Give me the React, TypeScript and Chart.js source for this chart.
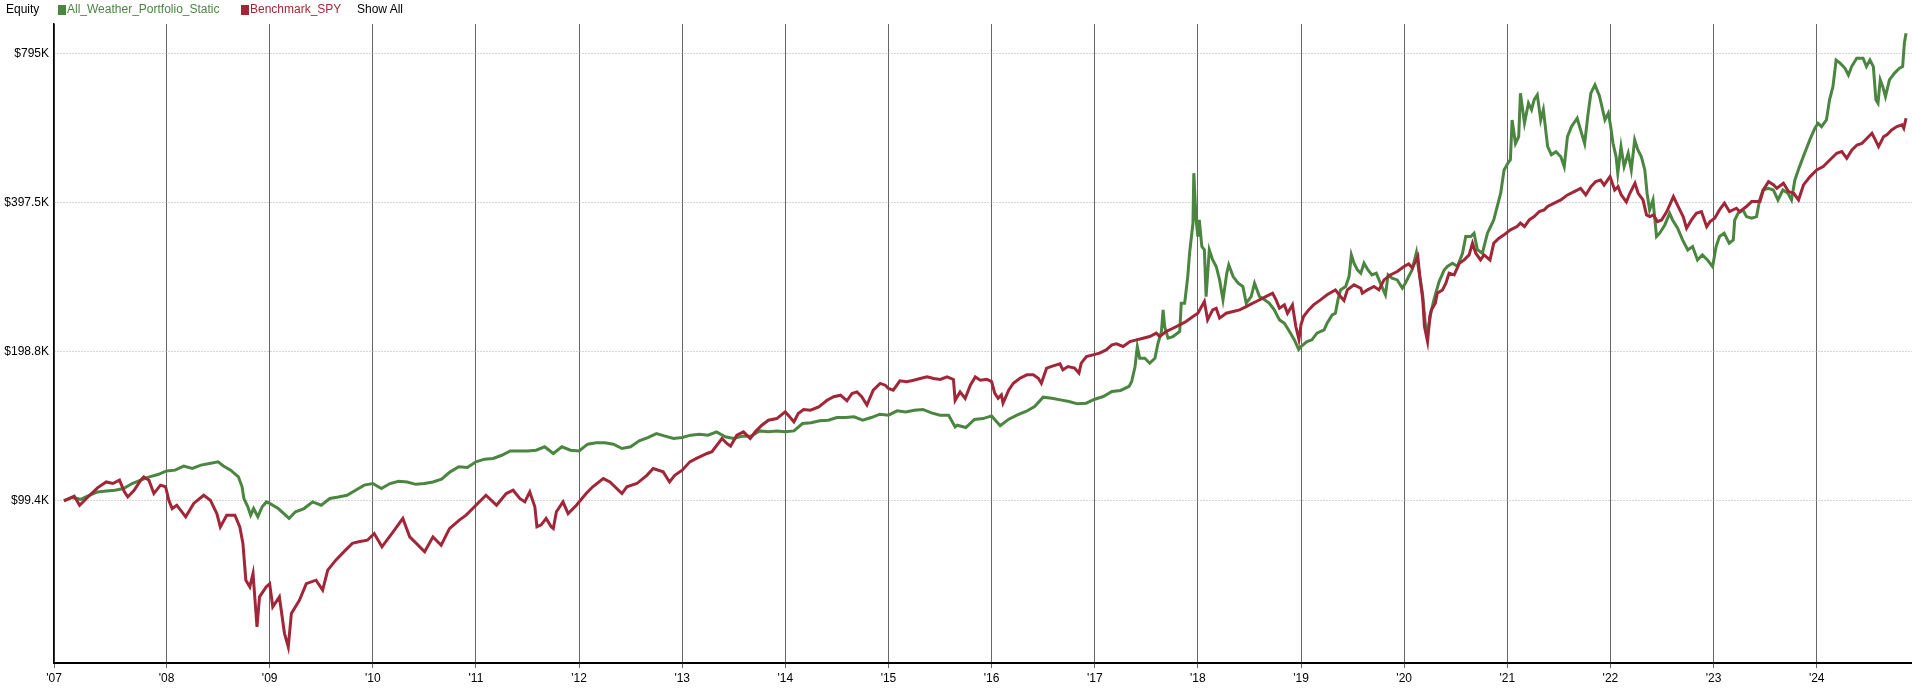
import React, { useEffect, useRef } from "react";
import { Chart, registerables } from "chart.js";

Chart.register(...registerables);

const chartTitle = "Equity";
const seriesNames = ["All_Weather_Portfolio_Static", "Benchmark_SPY"];
const seriesColors = ["#4A8640", "#A12638"];
const showAllText = "Show All";

// x axis (fractional years)
const xMin = 2006.909;
const xMax = 2024.924;
const xTickValues = [xMin, 2008, 2009, 2010, 2011, 2012, 2013, 2014, 2015, 2016, 2017, 2018, 2019, 2020, 2021, 2022, 2023, 2024];
const xTickLabels = ["'07", "'08", "'09", "'10", "'11", "'12", "'13", "'14", "'15", "'16", "'17", "'18", "'19", "'20", "'21", "'22", "'23", "'24"];

// y axis (thousands of dollars, log scale)
const yMin = 46.6;
const yMax = 911;
const yTickValues = [99.375, 198.75, 397.5, 795];
const yTickLabels = ["$99.4K", "$198.8K", "$397.5K", "$795K"];

// equity in $K
const allWeatherPoints: [string, number][] = [
  ["2007-01-03", 99.2], ["2007-02-01", 100.6], ["2007-03-01", 99.8], ["2007-04-01", 101.7], ["2007-05-01", 103.3], ["2007-06-01", 103.7],
  ["2007-07-01", 104.1], ["2007-08-01", 104.9], ["2007-09-01", 107.4], ["2007-10-01", 109.1], ["2007-11-01", 110.8], ["2007-12-01", 112.0],
  ["2008-01-01", 113.9], ["2008-02-01", 114.3], ["2008-03-01", 116.5], ["2008-04-01", 115.2], ["2008-05-01", 117.0], ["2008-06-01", 117.9],
  ["2008-07-01", 118.8], ["2008-07-20", 116.5], ["2008-08-15", 114.3], ["2008-09-12", 110.8], ["2008-09-25", 105.8], ["2008-10-01", 100.2],
  ["2008-10-15", 96.4], ["2008-10-25", 92.7], ["2008-11-05", 95.6], ["2008-11-20", 92.0], ["2008-12-05", 96.4], ["2008-12-20", 98.6],
  ["2009-01-01", 97.9], ["2009-02-01", 95.6], ["2009-03-09", 91.3], ["2009-04-01", 94.2], ["2009-05-01", 95.6], ["2009-06-01", 98.6],
  ["2009-07-01", 97.1], ["2009-08-01", 100.2], ["2009-09-01", 100.9], ["2009-10-01", 101.7], ["2009-11-01", 104.1], ["2009-12-01", 106.6],
  ["2010-01-01", 107.4], ["2010-02-01", 104.9], ["2010-03-01", 107.4], ["2010-04-01", 108.5], ["2010-05-01", 108.2], ["2010-06-01", 107.0],
  ["2010-07-01", 107.4], ["2010-08-01", 108.2], ["2010-09-01", 109.6], ["2010-10-01", 113.4], ["2010-11-01", 116.1], ["2010-12-01", 115.7],
  ["2011-01-01", 118.8], ["2011-02-01", 120.3], ["2011-03-01", 120.7], ["2011-04-01", 122.5], ["2011-05-01", 125.0], ["2011-06-01", 125.0],
  ["2011-07-01", 125.0], ["2011-08-01", 125.4], ["2011-09-01", 127.4], ["2011-10-01", 123.5], ["2011-11-01", 127.4], ["2011-12-01", 125.4],
  ["2012-01-01", 125.0], ["2012-02-01", 129.0], ["2012-03-01", 129.8], ["2012-04-01", 129.8], ["2012-05-01", 129.0], ["2012-06-01", 126.4],
  ["2012-07-01", 127.4], ["2012-08-01", 131.0], ["2012-09-01", 133.0], ["2012-10-01", 135.5], ["2012-11-01", 133.9], ["2012-12-01", 132.4],
  ["2013-01-01", 133.1], ["2013-02-01", 134.5], ["2013-03-01", 135.1], ["2013-04-01", 134.5], ["2013-05-01", 136.6], ["2013-06-01", 133.5],
  ["2013-07-01", 132.4], ["2013-08-01", 133.9], ["2013-09-01", 133.9], ["2013-10-01", 137.2], ["2013-11-01", 136.6], ["2013-12-01", 137.2],
  ["2014-01-01", 136.6], ["2014-02-01", 137.2], ["2014-03-01", 142.0], ["2014-04-01", 142.5], ["2014-05-01", 143.8], ["2014-06-01", 144.2],
  ["2014-07-01", 146.0], ["2014-08-01", 146.0], ["2014-09-01", 146.5], ["2014-10-01", 144.2], ["2014-11-01", 146.0], ["2014-12-01", 148.3],
  ["2015-01-01", 147.6], ["2015-02-01", 150.6], ["2015-03-01", 149.9], ["2015-04-01", 151.1], ["2015-05-01", 151.6], ["2015-06-01", 149.2],
  ["2015-07-01", 147.6], ["2015-08-01", 147.6], ["2015-08-24", 139.8], ["2015-09-01", 140.9], ["2015-10-01", 139.4], ["2015-11-01", 144.7],
  ["2015-12-01", 145.3],
  ["2016-01-01", 147.1], ["2016-02-01", 140.5], ["2016-03-01", 144.9], ["2016-04-01", 147.8], ["2016-05-01", 150.2], ["2016-06-01", 153.7],
  ["2016-07-01", 160.5], ["2016-08-01", 159.7], ["2016-09-01", 158.5], ["2016-10-01", 157.3], ["2016-11-01", 155.6], ["2016-12-01", 156.1],
  ["2017-01-01", 159.0], ["2017-02-01", 161.0], ["2017-03-01", 164.8], ["2017-04-01", 165.6], ["2017-05-01", 168.7], ["2017-05-10", 172.6],
  ["2017-05-22", 185.1], ["2017-05-30", 203.1], ["2017-06-08", 192.4], ["2017-06-26", 192.4], ["2017-07-13", 188.0], ["2017-08-01", 192.4],
  ["2017-08-12", 206.3], ["2017-08-24", 217.8], ["2017-08-30", 240.9], ["2017-09-05", 223.0], ["2017-09-17", 211.2], ["2017-10-04", 212.8],
  ["2017-10-28", 217.8], ["2017-11-03", 248.6], ["2017-11-15", 248.6], ["2017-11-26", 281.3], ["2017-12-02", 313.6], ["2017-12-14", 360.6],
  ["2017-12-17", 455.1], ["2017-12-25", 366.2],
  ["2018-01-01", 338.9], ["2018-01-06", 366.2], ["2018-01-15", 323.5], ["2018-01-24", 318.5], ["2018-01-30", 256.3], ["2018-02-11", 318.5],
  ["2018-02-23", 304.0], ["2018-03-05", 294.8], ["2018-03-17", 277.0], ["2018-03-29", 252.5], ["2018-04-12", 285.8], ["2018-04-19", 297.1],
  ["2018-05-04", 281.3], ["2018-05-22", 272.7], ["2018-06-08", 268.6], ["2018-06-20", 248.6], ["2018-07-07", 256.3], ["2018-07-19", 272.7],
  ["2018-08-06", 256.3], ["2018-08-24", 252.5], ["2018-09-10", 248.6], ["2018-09-28", 240.9], ["2018-10-16", 230.0], ["2018-11-03", 226.4],
  ["2018-11-21", 217.8], ["2018-12-08", 209.5], ["2018-12-23", 200.5],
  ["2019-01-01", 203.2], ["2019-01-22", 207.9], ["2019-02-09", 209.6], ["2019-02-27", 216.2], ["2019-03-22", 219.6], ["2019-04-02", 226.4],
  ["2019-04-20", 235.4], ["2019-05-01", 237.2], ["2019-05-10", 252.4], ["2019-05-19", 264.4], ["2019-06-07", 268.6], ["2019-06-19", 281.4],
  ["2019-06-27", 311.2], ["2019-07-06", 299.3], ["2019-07-18", 290.1], ["2019-07-30", 285.8], ["2019-08-11", 299.3], ["2019-08-25", 290.1],
  ["2019-09-09", 283.5], ["2019-09-24", 285.8], ["2019-10-08", 272.8], ["2019-10-26", 258.4], ["2019-11-05", 283.5], ["2019-11-19", 279.1],
  ["2019-12-07", 277.0], ["2019-12-25", 266.5],
  ["2020-01-05", 272.8], ["2020-01-17", 281.4], ["2020-01-29", 290.1], ["2020-02-14", 314.6], ["2020-02-22", 290.1], ["2020-03-05", 260.4],
  ["2020-03-17", 219.6], ["2020-03-23", 216.2], ["2020-04-04", 237.2], ["2020-04-15", 252.4], ["2020-05-03", 274.9], ["2020-05-21", 290.1],
  ["2020-06-02", 294.9], ["2020-06-20", 299.3], ["2020-07-07", 294.9], ["2020-07-25", 313.6], ["2020-08-06", 339.0], ["2020-08-24", 339.0],
  ["2020-09-05", 344.2], ["2020-09-17", 318.6], ["2020-10-04", 313.6], ["2020-10-22", 344.2], ["2020-11-03", 355.1], ["2020-11-14", 366.3],
  ["2020-11-26", 389.7], ["2020-12-08", 414.5], ["2020-12-20", 462.1],
  ["2021-01-03", 476.7], ["2021-01-12", 484.4], ["2021-01-18", 582.6], ["2021-01-30", 522.5], ["2021-02-11", 539.4], ["2021-02-17", 660.2],
  ["2021-03-01", 574.8], ["2021-03-15", 630.2], ["2021-03-26", 611.3], ["2021-04-05", 640.5], ["2021-04-16", 655.1], ["2021-04-28", 582.6],
  ["2021-05-07", 611.3], ["2021-05-22", 515.8], ["2021-06-05", 495.6], ["2021-06-21", 502.9], ["2021-07-08", 491.1], ["2021-07-20", 469.2],
  ["2021-08-01", 539.4], ["2021-08-15", 565.1], ["2021-09-05", 587.7], ["2021-09-17", 556.5], ["2021-10-01", 522.5], ["2021-10-12", 592.9],
  ["2021-10-23", 660.2], ["2021-11-07", 686.1], ["2021-11-23", 652.0], ["2021-12-12", 583.0], ["2021-12-24", 601.6],
  ["2022-01-01", 570.0], ["2022-01-10", 522.9], ["2022-01-21", 491.6], ["2022-01-27", 454.9], ["2022-02-08", 515.0], ["2022-02-19", 469.2],
  ["2022-03-03", 499.3], ["2022-03-14", 462.0], ["2022-03-26", 531.3], ["2022-04-07", 507.1], ["2022-04-19", 491.6], ["2022-05-01", 462.0],
  ["2022-05-09", 414.5], ["2022-05-18", 383.6], ["2022-05-30", 401.8], ["2022-06-12", 338.9], ["2022-06-23", 344.2], ["2022-07-11", 357.7],
  ["2022-07-28", 377.6], ["2022-08-08", 366.1], ["2022-08-26", 352.2], ["2022-09-13", 333.6], ["2022-10-01", 318.4], ["2022-10-18", 323.4],
  ["2022-11-05", 303.9], ["2022-11-22", 311.1], ["2022-12-10", 303.9], ["2022-12-28", 294.6],
  ["2023-01-10", 323.4], ["2023-01-22", 338.9], ["2023-02-08", 344.2], ["2023-02-26", 328.5], ["2023-03-10", 333.6], ["2023-03-15", 366.1],
  ["2023-03-27", 377.6], ["2023-04-14", 383.6], ["2023-04-26", 371.9], ["2023-05-14", 369.0], ["2023-06-01", 371.9], ["2023-06-12", 401.8],
  ["2023-06-24", 420.9], ["2023-07-12", 424.2], ["2023-07-30", 420.9], ["2023-08-16", 401.8], ["2023-09-03", 420.9], ["2023-09-21", 414.5],
  ["2023-10-03", 401.8], ["2023-10-15", 441.0], ["2023-11-01", 469.2], ["2023-11-19", 499.3], ["2023-12-07", 531.3], ["2023-12-25", 561.1],
  ["2024-01-06", 574.0], ["2024-01-18", 565.0], ["2024-02-05", 583.0], ["2024-02-16", 640.1], ["2024-02-28", 680.5], ["2024-03-09", 770.3],
  ["2024-03-23", 759.5], ["2024-04-10", 741.4], ["2024-04-22", 718.4], ["2024-05-03", 747.3], ["2024-05-21", 776.7], ["2024-06-13", 776.7],
  ["2024-06-25", 747.3], ["2024-07-07", 770.3], ["2024-07-19", 747.3], ["2024-07-28", 640.1], ["2024-08-05", 630.2], ["2024-08-13", 702.4],
  ["2024-08-22", 680.5], ["2024-09-01", 649.9], ["2024-09-15", 702.4], ["2024-10-02", 724.2], ["2024-10-20", 741.4], ["2024-11-01", 747.3],
  ["2024-11-07", 832.8], ["2024-11-13", 872.5],
];

const spyPoints: [string, number][] = [
  ["2007-01-03", 99.1], ["2007-02-09", 101.3], ["2007-02-28", 97.1], ["2007-03-27", 100.9], ["2007-05-01", 105.4], ["2007-05-31", 108.2],
  ["2007-06-24", 107.4], ["2007-07-17", 109.1], ["2007-08-04", 103.3], ["2007-08-16", 100.9], ["2007-09-08", 104.1], ["2007-10-01", 109.1],
  ["2007-10-12", 110.8], ["2007-10-30", 109.1], ["2007-11-17", 102.5], ["2007-12-10", 106.6], ["2007-12-28", 105.8],
  ["2008-01-09", 99.4], ["2008-01-21", 95.6], ["2008-02-07", 97.1], ["2008-03-08", 92.0], ["2008-04-06", 97.9], ["2008-05-11", 101.7],
  ["2008-06-04", 99.4], ["2008-06-27", 93.4], ["2008-07-09", 87.8], ["2008-08-01", 92.7], ["2008-08-30", 92.7], ["2008-09-17", 87.8],
  ["2008-09-28", 81.3], ["2008-10-08", 68.5], ["2008-10-22", 66.4], ["2008-11-03", 70.7], ["2008-11-17", 55.1], ["2008-11-26", 63.4],
  ["2008-12-19", 66.4],
  ["2009-01-01", 67.4], ["2009-01-12", 60.5], ["2009-02-05", 63.4], ["2009-02-23", 53.5], ["2009-03-06", 50.2], ["2009-03-17", 58.7],
  ["2009-04-15", 62.4], ["2009-05-09", 67.4], ["2009-06-13", 68.5], ["2009-07-06", 65.4], ["2009-07-24", 71.8], ["2009-08-22", 75.2],
  ["2009-09-26", 78.8], ["2009-10-20", 81.3], ["2009-11-12", 81.9], ["2009-12-12", 82.5],
  ["2010-01-06", 85.1], ["2010-02-03", 80.0], ["2010-03-12", 85.8], ["2010-04-16", 91.3], ["2010-05-10", 83.8], ["2010-06-03", 81.3],
  ["2010-07-02", 78.2], ["2010-08-01", 83.8], ["2010-08-30", 80.6], ["2010-09-29", 87.1], ["2010-11-03", 90.6], ["2010-11-27", 92.7],
  ["2010-12-20", 95.6],
  ["2011-02-06", 101.7], ["2011-03-13", 97.1], ["2011-04-17", 102.5], ["2011-05-11", 104.1], ["2011-06-04", 100.2], ["2011-06-22", 98.6],
  ["2011-07-09", 103.3], ["2011-07-27", 96.4], ["2011-08-04", 87.8], ["2011-08-19", 88.6], ["2011-09-06", 91.3], ["2011-09-24", 87.8],
  ["2011-10-01", 87.1], ["2011-10-12", 94.2], ["2011-11-05", 98.6], ["2011-11-23", 93.4], ["2011-12-22", 97.1],
  ["2012-01-26", 102.5], ["2012-02-19", 105.8], ["2012-03-26", 109.9], ["2012-04-19", 108.2], ["2012-05-31", 102.5], ["2012-06-18", 105.8],
  ["2012-07-23", 107.4], ["2012-08-28", 111.6], ["2012-09-20", 115.2], ["2012-10-25", 113.4], ["2012-11-17", 108.2], ["2012-12-05", 111.6],
  ["2013-01-01", 114.3], ["2013-01-28", 118.8], ["2013-02-21", 120.7], ["2013-03-28", 123.5], ["2013-04-15", 124.5], ["2013-05-20", 132.4],
  ["2013-06-07", 129.4], ["2013-06-20", 127.8], ["2013-07-12", 134.5], ["2013-08-05", 136.6], ["2013-08-29", 132.4], ["2013-09-16", 136.6],
  ["2013-10-09", 140.9], ["2013-11-02", 144.2], ["2013-12-01", 145.3], ["2013-12-31", 149.9],
  ["2014-02-01", 143.1], ["2014-02-16", 148.8], ["2014-03-05", 151.6], ["2014-03-29", 151.1], ["2014-04-28", 153.4], ["2014-05-27", 158.2],
  ["2014-06-20", 160.8], ["2014-07-14", 162.0], ["2014-08-06", 157.8], ["2014-08-24", 163.3], ["2014-09-11", 164.5], ["2014-09-28", 160.8],
  ["2014-10-16", 154.7], ["2014-11-08", 165.8], ["2014-12-02", 171.1], ["2014-12-20", 169.7],
  ["2015-01-01", 167.1], ["2015-01-18", 165.8], ["2015-02-11", 173.2], ["2015-03-05", 172.4], ["2015-03-29", 173.7], ["2015-04-22", 175.1],
  ["2015-05-16", 176.4], ["2015-06-09", 175.1], ["2015-07-02", 174.3], ["2015-07-26", 176.4], ["2015-08-18", 174.3], ["2015-08-24", 158.2],
  ["2015-09-11", 164.5], ["2015-09-29", 159.5], ["2015-10-17", 169.7], ["2015-11-04", 176.4], ["2015-11-22", 173.7], ["2015-12-14", 174.5],
  ["2016-01-01", 172.6], ["2016-01-12", 163.5], ["2016-01-24", 159.7], ["2016-02-05", 162.3], ["2016-02-11", 156.1], ["2016-03-01", 166.0],
  ["2016-03-17", 171.3], ["2016-04-10", 175.3], ["2016-05-04", 178.1], ["2016-05-27", 178.1], ["2016-06-14", 175.3], ["2016-06-25", 171.3],
  ["2016-07-13", 183.7], ["2016-08-06", 185.7], ["2016-08-30", 187.4], ["2016-09-10", 182.3], ["2016-09-28", 185.1], ["2016-10-21", 183.7],
  ["2016-11-06", 179.5], ["2016-11-14", 188.0], ["2016-12-02", 193.9], ["2016-12-25", 195.4],
  ["2017-01-18", 197.0], ["2017-02-11", 200.0], ["2017-03-01", 204.8], ["2017-03-17", 205.7], ["2017-04-10", 203.2], ["2017-05-04", 207.9],
  ["2017-05-27", 209.5], ["2017-06-20", 211.2], ["2017-07-13", 212.8], ["2017-08-06", 216.2], ["2017-08-18", 212.8], ["2017-09-10", 217.8],
  ["2017-10-04", 221.2], ["2017-10-28", 224.7], ["2017-11-20", 228.2], ["2017-12-14", 233.6],
  ["2018-01-01", 237.2], ["2018-01-24", 250.5], ["2018-02-05", 230.0], ["2018-02-23", 240.9], ["2018-03-05", 242.8], ["2018-03-17", 231.8],
  ["2018-04-10", 237.2], ["2018-05-04", 239.1], ["2018-05-27", 240.9], ["2018-06-20", 244.7], ["2018-07-01", 246.6], ["2018-07-25", 250.5],
  ["2018-08-18", 254.4], ["2018-09-10", 258.4], ["2018-09-22", 260.3], ["2018-10-04", 252.4], ["2018-10-16", 242.8], ["2018-11-03", 246.6],
  ["2018-11-14", 237.2], ["2018-12-01", 246.6], ["2018-12-13", 223.0], ["2018-12-24", 210.0],
  ["2019-01-01", 225.0], ["2019-01-10", 233.6], ["2019-01-28", 240.9], ["2019-02-15", 246.6], ["2019-03-09", 252.4], ["2019-04-02", 258.4],
  ["2019-05-01", 264.4], ["2019-05-19", 256.4], ["2019-06-01", 251.6], ["2019-06-13", 264.4], ["2019-07-06", 270.7], ["2019-07-30", 266.5],
  ["2019-08-05", 260.3], ["2019-08-23", 264.4], ["2019-09-16", 268.6], ["2019-10-03", 264.4], ["2019-10-21", 277.0], ["2019-11-13", 283.5],
  ["2019-12-07", 288.0], ["2019-12-31", 294.9],
  ["2020-01-17", 298.4], ["2020-01-30", 293.0], ["2020-02-19", 308.7], ["2020-02-26", 281.4], ["2020-03-06", 252.4], ["2020-03-12", 223.0],
  ["2020-03-23", 207.9], ["2020-03-31", 233.6], ["2020-04-06", 240.9], ["2020-04-20", 248.6], ["2020-04-27", 260.4], ["2020-05-15", 264.4],
  ["2020-05-27", 272.8], ["2020-06-08", 285.8], ["2020-06-26", 283.5], ["2020-07-14", 299.3], ["2020-07-31", 304.0], ["2020-08-18", 311.2],
  ["2020-08-30", 328.7], ["2020-09-11", 313.6], ["2020-09-28", 304.0], ["2020-10-10", 311.2], ["2020-10-31", 304.0], ["2020-11-14", 328.7],
  ["2020-12-02", 336.3], ["2020-12-20", 341.6],
  ["2021-01-12", 349.6], ["2021-02-05", 355.1], ["2021-02-17", 360.8], ["2021-03-01", 355.1], ["2021-03-18", 366.3], ["2021-04-05", 372.0],
  ["2021-04-23", 380.7], ["2021-05-10", 383.7], ["2021-05-22", 389.7], ["2021-06-15", 395.8], ["2021-07-08", 401.9], ["2021-08-01", 411.3],
  ["2021-08-25", 417.6], ["2021-09-17", 424.0], ["2021-10-05", 411.3], ["2021-10-23", 427.3], ["2021-11-10", 437.7], ["2021-11-27", 441.0],
  ["2021-12-09", 430.5], ["2021-12-30", 447.9],
  ["2022-01-16", 420.9], ["2022-01-28", 427.6], ["2022-02-09", 411.3], ["2022-02-27", 398.1], ["2022-03-09", 414.5], ["2022-03-27", 434.2],
  ["2022-04-08", 414.5], ["2022-04-25", 401.8], ["2022-05-07", 374.8], ["2022-05-19", 371.9], ["2022-06-01", 374.8], ["2022-06-15", 363.3],
  ["2022-06-30", 366.1], ["2022-07-18", 380.6], ["2022-08-11", 408.1], ["2022-08-28", 389.6], ["2022-09-15", 371.9], ["2022-09-27", 352.2],
  ["2022-10-14", 366.1], ["2022-11-01", 377.6], ["2022-11-19", 380.6], ["2022-12-07", 354.9], ["2022-12-19", 363.3],
  ["2023-01-05", 369.0], ["2023-01-22", 383.6], ["2023-02-09", 395.7], ["2023-02-27", 380.6], ["2023-03-21", 386.6], ["2023-04-02", 380.6],
  ["2023-04-26", 389.6], ["2023-05-14", 398.7], ["2023-06-13", 398.7], ["2023-06-25", 420.9], ["2023-07-13", 437.6], ["2023-07-31", 430.9],
  ["2023-08-12", 424.2], ["2023-09-05", 434.2], ["2023-09-23", 417.7], ["2023-10-11", 414.5], ["2023-10-28", 401.8], ["2023-11-15", 430.9],
  ["2023-12-08", 447.9],
  ["2024-01-01", 462.0], ["2024-01-24", 469.2], ["2024-02-17", 484.0], ["2024-03-11", 499.3], ["2024-03-29", 503.2], ["2024-04-16", 487.7],
  ["2024-05-04", 507.1], ["2024-05-22", 518.9], ["2024-06-09", 522.9], ["2024-06-27", 535.3], ["2024-07-14", 548.1], ["2024-07-26", 531.3],
  ["2024-08-07", 515.0], ["2024-08-25", 539.5], ["2024-09-06", 543.8], ["2024-09-23", 556.5], ["2024-10-11", 565.3], ["2024-10-29", 569.9],
  ["2024-11-05", 561.1], ["2024-11-13", 587.5],
];

const FONT = "'Liberation Sans', Arial, sans-serif";

function toYear(d: string): number {
  const [y, m, dd] = d.split("-").map(Number);
  return y + ((m || 1) - 1) / 12 + ((dd || 1) - 1) / 365;
}

function toXY(points: [string, number][]) {
  return points.map(([d, v]) => ({ x: toYear(d), y: v }));
}

export default function App() {
  const canvasRef = useRef<HTMLCanvasElement | null>(null);

  useEffect(() => {
    const canvas = canvasRef.current;
    if (!canvas) return;
    const chart = new Chart(canvas, {
      type: "line",
      data: {
        datasets: [
          {
            label: seriesNames[1],
            data: toXY(spyPoints),
            borderColor: seriesColors[1],
            backgroundColor: seriesColors[1],
            borderWidth: 3,
            pointRadius: 0,
            tension: 0,
            fill: false,
            order: 0,
          },
          {
            label: seriesNames[0],
            data: toXY(allWeatherPoints),
            borderColor: seriesColors[0],
            backgroundColor: seriesColors[0],
            borderWidth: 3,
            pointRadius: 0,
            tension: 0,
            fill: false,
            order: 1,
          },
        ],
      },
      options: {
        responsive: false,
        maintainAspectRatio: false,
        animation: false,
        events: [],
        layout: { padding: { top: 24, left: 0, right: 0, bottom: 0 } },
        plugins: {
          legend: { display: false },
          tooltip: { enabled: false },
          title: { display: false },
        },
        scales: {
          x: {
            type: "linear",
            min: xMin,
            max: xMax,
            afterBuildTicks: (scale: any) => {
              scale.ticks = xTickValues.map((v) => ({ value: v }));
            },
            afterFit: (scale: any) => {
              scale.height = 31;
            },
            ticks: {
              autoSkip: false,
              maxRotation: 0,
              minRotation: 0,
              padding: 3,
              color: "#000",
              font: { family: FONT, size: 12 },
              callback: (_v: any, i: number) => xTickLabels[i],
            },
            grid: {
              color: "#666",
              lineWidth: 1,
              drawTicks: true,
              tickLength: 5,
              tickColor: "#666",
            },
            border: { display: true, color: "#000", width: 2 },
          },
          y: {
            type: "logarithmic",
            min: yMin,
            max: yMax,
            afterBuildTicks: (scale: any) => {
              scale.ticks = yTickValues.map((v) => ({ value: v }));
            },
            afterFit: (scale: any) => {
              scale.width = 54;
            },
            ticks: {
              padding: 5,
              color: "#000",
              font: { family: FONT, size: 12 },
              callback: (_v: any, i: number) => yTickLabels[i],
            },
            grid: {
              color: "#aaaaaa",
              lineWidth: 1,
              drawTicks: false,
            },
            border: { display: true, color: "#000", width: 1.5, dash: [1, 2] },
          },
        },
      },
    } as any);
    return () => chart.destroy();
  }, []);

  const textStyle: React.CSSProperties = {
    position: "absolute",
    top: 2,
    fontFamily: FONT,
    fontSize: 12,
    lineHeight: "14px",
    whiteSpace: "nowrap",
  };
  const swatch = (left: number, color: string): React.CSSProperties => ({
    position: "absolute",
    left,
    top: 5,
    width: 8,
    height: 10,
    background: color,
  });

  return (
    <div style={{ position: "absolute", left: 0, top: 0, width: 1912, height: 694, background: "#fff", overflow: "hidden" }}>
      <canvas ref={canvasRef} width={1912} height={694} style={{ position: "absolute", left: 0, top: 0, width: 1912, height: 694, display: "block" }} />
      <span style={{ ...textStyle, left: 6, color: "#000" }}>{chartTitle}</span>
      <span style={swatch(58, seriesColors[0])} />
      <span style={{ ...textStyle, left: 67, color: seriesColors[0] }}>{seriesNames[0]}</span>
      <span style={swatch(241, seriesColors[1])} />
      <span style={{ ...textStyle, left: 250, color: seriesColors[1] }}>{seriesNames[1]}</span>
      <span style={{ ...textStyle, left: 357, color: "#000" }}>{showAllText}</span>
    </div>
  );
}
